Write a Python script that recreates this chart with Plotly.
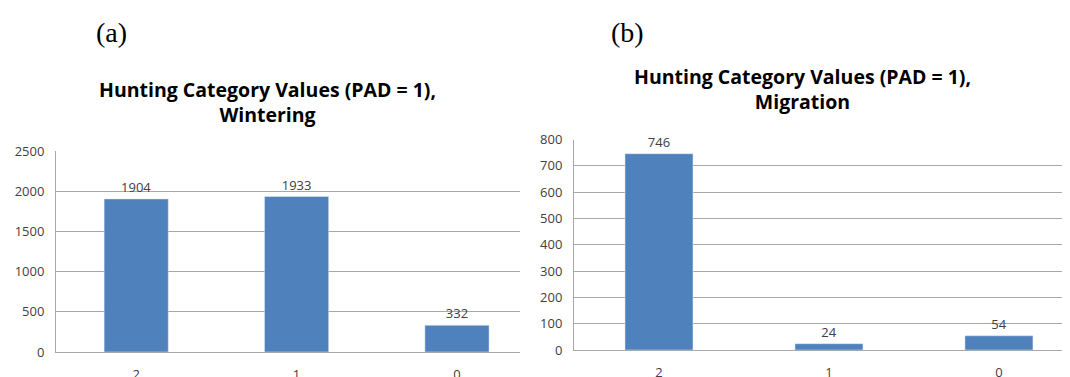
import plotly.graph_objects as go

categories = ["2", "1", "0"]
wintering_values = [1904, 1933, 332]
migration_values = [746, 24, 54]
wintering_ticks = [0, 500, 1000, 1500, 2000, 2500]
migration_ticks = [0, 100, 200, 300, 400, 500, 600, 700, 800]

BAR = "#4F81BD"
GRID = "#A8A8A8"
TXT = "#404040"
FONT = "Open Sans"

# page has an 8px body margin; figure sized to fill the rest of the window
OFF = 8
W, H = 1070 - OFF, 377 - OFF


def xd(a, b):
    return [(a - OFF) / W, (b - OFF) / W]


def yd(top, bottom):
    return [1 - (bottom - OFF) / H, 1 - (top - OFF) / H]


fig = go.Figure()
fig.add_trace(go.Bar(x=categories, y=wintering_values, marker_color=BAR,
                     text=[str(v) for v in wintering_values], textposition="outside",
                     textfont=dict(family=FONT, size=13, color=TXT), cliponaxis=False,
                     xaxis="x", yaxis="y", width=0.40, showlegend=False))
fig.add_trace(go.Bar(x=categories, y=migration_values, marker_color=BAR,
                     text=[str(v) for v in migration_values], textposition="outside",
                     textfont=dict(family=FONT, size=13, color=TXT), cliponaxis=False,
                     xaxis="x2", yaxis="y2", width=0.40, showlegend=False))

xcommon = dict(type="category", showgrid=False, showline=True, linecolor=GRID, linewidth=1,
               ticks="outside", ticklen=10, tickcolor="rgba(0,0,0,0)", automargin=False,
               tickfont=dict(family=FONT, size=13, color=TXT), fixedrange=True)
ycommon = dict(showgrid=True, gridcolor=GRID, gridwidth=1, showline=True, linecolor=GRID,
               linewidth=1, zeroline=False, ticks="outside", ticklen=8, automargin=False,
               tickcolor="rgba(0,0,0,0)", tickfont=dict(family=FONT, size=13, color=TXT))


def ann(text, px, py, size, family, bold=False):
    return dict(text=f"<b>{text}</b>" if bold else text,
                x=(px - OFF) / W, y=1 - (py - OFF) / H, xref="paper", yref="paper",
                xanchor="center", yanchor="middle", showarrow=False,
                font=dict(family=family, size=size, color="black"))


fig.update_layout(
    width=W, height=H, margin=dict(l=0, r=0, t=0, b=0, autoexpand=False),
    paper_bgcolor="white", plot_bgcolor="white",
    xaxis=dict(domain=xd(56, 520), anchor="y", range=[-0.5, 2.393], **xcommon),
    yaxis=dict(domain=yd(151, 352), anchor="x", range=[0, 2500],
               tickvals=wintering_ticks, **ycommon),
    xaxis2=dict(domain=xd(574, 1070), anchor="y2", range=[-0.5, 2.418], **xcommon),
    yaxis2=dict(domain=yd(139.5, 350), anchor="x2", range=[0, 800],
                tickvals=migration_ticks, **ycommon),
    annotations=[
        ann("(a)", 111, 32, 28, "Liberation Serif"),
        ann("(b)", 627, 32, 28, "Liberation Serif"),
        ann("Hunting Category Values (PAD = 1),<br>Wintering", 267, 101.5, 19.5, FONT, True),
        ann("Hunting Category Values (PAD = 1),<br>Migration", 802, 89, 19.5, FONT, True),
    ],
)

fig.write_html("out.html")
